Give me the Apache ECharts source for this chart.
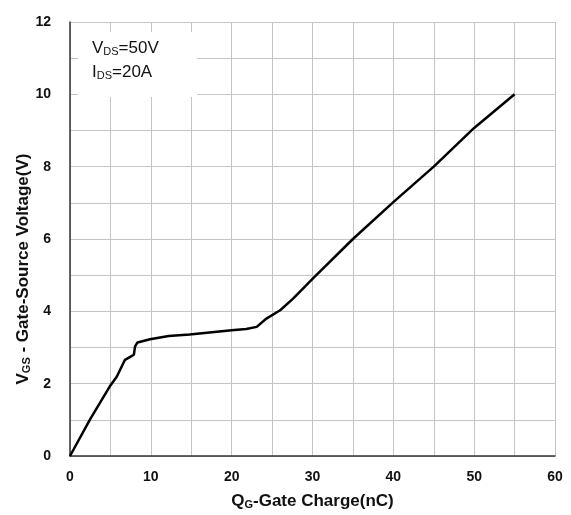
<!DOCTYPE html>
<html>
<head>
<meta charset="utf-8">
<script src="https://cdn.jsdelivr.net/npm/echarts@6/dist/echarts.min.js"></script>
<style>
  html, body { margin: 0; padding: 0; background: #fff; }
  #main { width: 571px; height: 515px; }
</style>
</head>
<body>
<div id="main"></div>
<script>
// gate charge curve
var gateCharge = [0, 2.5, 5.0, 5.8, 6.8, 7.5, 7.9, 8.05, 8.35, 9.9, 12.2, 14.8, 20.0, 21.8, 23.1, 24.3, 26.0, 27.6, 30, 35, 40, 45, 50, 55];
var gateVoltage = [0, 1.02, 1.95, 2.2, 2.66, 2.75, 2.8, 3.03, 3.14, 3.23, 3.32, 3.36, 3.48, 3.51, 3.57, 3.80, 4.03, 4.35, 4.9, 6.0, 7.02, 8.0, 9.07, 10];

var xTickLabels = [0, 10, 20, 30, 40, 50, 60];
var yTickLabels = [0, 2, 4, 6, 8, 10, 12];

var chartDom = document.getElementById('main');
var myChart = echarts.init(chartDom);
var option;

var curve = gateCharge.map(function (q, i) {
    return [q, gateVoltage[i]];
});

var labelFont = "'Liberation Sans Narrow', 'Arial Narrow', 'Liberation Sans', sans-serif";
var titleFont = "'Liberation Sans', Arial, sans-serif";

option = {
    animation: false,
    backgroundColor: '#fff',
    grid: {
        left: 70,
        right: 16,
        top: 22,
        bottom: 54
    },
    xAxis: {
        type: 'value',
        min: 0,
        max: 60,
        interval: 5,
        axisLine: { show: true, onZero: false, lineStyle: { color: '#333', width: 1.5 } },
        axisTick: { show: false },
        splitLine: { show: true, lineStyle: { color: '#c4c4c4', width: 1 } },
        axisLabel: {
            margin: 14,
            color: '#111',
            fontFamily: labelFont,
            fontWeight: 'bold',
            fontSize: 14,
            formatter: function (v) {
                return xTickLabels.indexOf(v) >= 0 ? String(v) : '';
            }
        },
        name: '{a|Q}{b|G}{a|-Gate Charge(nC)}',
        nameLocation: 'middle',
        nameGap: 37,
        nameMoveOverlap: false,
        nameTextStyle: {
            rich: {
                a: { fontFamily: titleFont, fontWeight: 'bold', fontSize: 17, color: '#111', verticalAlign: 'bottom' },
                b: { fontFamily: titleFont, fontWeight: 'bold', fontSize: 11, color: '#111', verticalAlign: 'bottom' }
            }
        }
    },
    yAxis: {
        type: 'value',
        min: 0,
        max: 12,
        interval: 1,
        axisLine: { show: true, onZero: false, lineStyle: { color: '#333', width: 1.5 } },
        axisTick: { show: false },
        splitLine: { show: true, lineStyle: { color: '#c4c4c4', width: 1 } },
        axisLabel: {
            margin: 19,
            color: '#111',
            fontFamily: labelFont,
            fontWeight: 'bold',
            fontSize: 14,
            formatter: function (v) {
                return yTickLabels.indexOf(v) >= 0 ? String(v) : '';
            }
        },
        name: '{a|V}{b|GS}{a| - Gate-Source Voltage(V)}',
        nameLocation: 'middle',
        nameRotate: 90,
        nameGap: 38,
        nameMoveOverlap: false,
        nameTextStyle: {
            padding: [0, 60, 0, 0],
            rich: {
                a: { fontFamily: titleFont, fontWeight: 'bold', fontSize: 17, color: '#111', verticalAlign: 'bottom' },
                b: { fontFamily: titleFont, fontWeight: 'bold', fontSize: 11, color: '#111', verticalAlign: 'bottom' }
            }
        }
    },
    graphic: [
        {
            type: 'rect',
            left: 78,
            top: 32,
            z: 100,
            shape: { width: 119, height: 65 },
            style: { fill: '#fff' }
        },
        {
            type: 'text',
            left: 92,
            top: 40,
            z: 101,
            style: {
                text: '{a|V}{b|DS}{a|=50V}\n{a|I}{b|DS}{a|=20A}',
                rich: {
                    a: { fontFamily: titleFont, fontSize: 17, fill: '#111', lineHeight: 24, verticalAlign: 'bottom' },
                    b: { fontFamily: titleFont, fontSize: 11, fill: '#111', lineHeight: 24, verticalAlign: 'bottom' }
                }
            }
        }
    ],
    series: [
        {
            type: 'line',
            data: curve,
            showSymbol: false,
            smooth: false,
            lineStyle: { color: '#000', width: 2.5 },
            z: 5
        }
    ]
};

option && myChart.setOption(option);
</script>
</body>
</html>
